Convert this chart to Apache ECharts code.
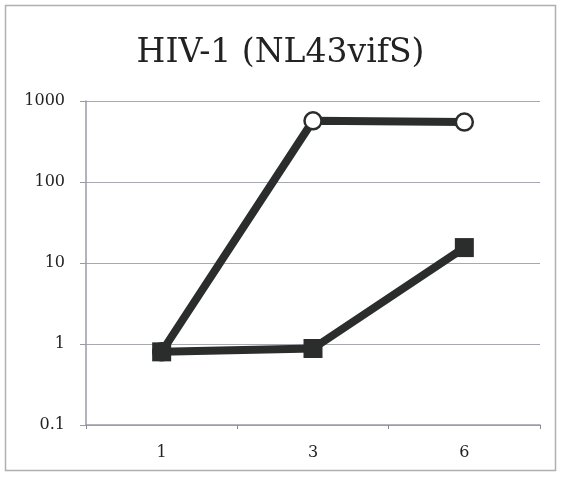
<!DOCTYPE html>
<html><head><meta charset="utf-8">
<script src="https://cdn.jsdelivr.net/npm/echarts@6/dist/echarts.min.js"></script>
<style>html,body{margin:0;padding:0;background:#fff}#c{width:561px;height:478px}</style>
</head><body><div id="c"></div>
<script>
const titleText = 'HIV-1 (NL43vifS)';
const categories = ['1', '3', '6'];
const circleSeries = [0.8, 570, 550];
const squareSeries = [0.8, 0.88, 15.5];
const yTicks = [0.1, 1, 10, 100, 1000];

const chart = echarts.init(document.getElementById('c'), null, {renderer: 'canvas'});
chart.setOption({
  backgroundColor: '#fff',
  animation: false,
  title: {
    text: titleText, left: 'center', top: 32,
    textStyle: {fontFamily: 'DejaVu Serif', fontSize: 33, fontWeight: 'normal', color: '#222'}
  },
  graphic: [{
    type: 'rect', shape: {x: 5.5, y: 5.5, width: 550, height: 465},
    style: {fill: 'none', stroke: '#b0b0b0', lineWidth: 1.5}, silent: true, z: -1
  }],
  grid: {left: 86, right: 21, top: 101, bottom: 53, containLabel: false},
  xAxis: {
    type: 'category', data: categories, boundaryGap: true,
    axisLine: {lineStyle: {color: '#9a9aa6', width: 1.5}},
    axisTick: {show: true, length: 4, lineStyle: {color: '#8a8a96'}},
    axisLabel: {fontFamily: 'DejaVu Serif', fontSize: 16, color: '#222', margin: 20}
  },
  yAxis: {
    type: 'log', logBase: 10, min: yTicks[0], max: yTicks[yTicks.length - 1],
    axisLine: {show: true, lineStyle: {color: '#9a9aa6', width: 1.5}},
    axisTick: {show: true, length: 6, lineStyle: {color: '#9a9aa6'}},
    splitLine: {show: true, lineStyle: {color: '#a8a8b0', width: 1.2}},
    minorTick: {show: false},
    axisLabel: {fontFamily: 'DejaVu Serif', fontSize: 16, color: '#222', margin: 21,
      formatter: v => String(+v.toPrecision(3))}
  },
  series: [
    {
      type: 'line', data: circleSeries, symbol: 'circle', symbolSize: 17,
      lineStyle: {color: '#2b2d2c', width: 8},
      itemStyle: {color: '#fff', borderColor: '#2b2d2c', borderWidth: 2.5},
      z: 2
    },
    {
      type: 'line', data: squareSeries, symbol: 'rect', symbolSize: 19,
      lineStyle: {color: '#2b2d2c', width: 8},
      itemStyle: {color: '#2b2d2c', borderColor: '#2b2d2c', borderWidth: 0},
      z: 3
    }
  ]
});
</script></body></html>
